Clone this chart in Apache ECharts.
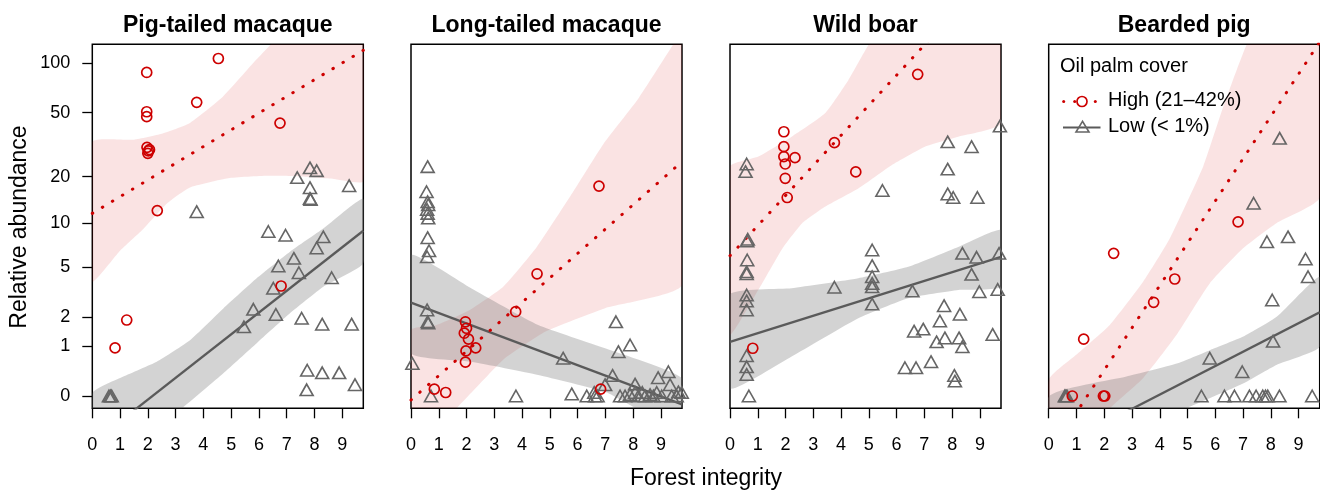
<!DOCTYPE html>
<html><head><meta charset="utf-8">
<script src="https://cdn.jsdelivr.net/npm/echarts@6/dist/echarts.min.js"></script>
<style>html,body{margin:0;padding:0;background:#fff}#chart{width:1320px;height:490px}</style>
</head><body><div id="chart"></div>
<script>
// ---------- categories / ticks ----------
const panelTitles = ['Pig-tailed macaque', 'Long-tailed macaque', 'Wild boar', 'Bearded pig'];
const yTickValues = [0, 1, 2, 5, 10, 20, 50, 100];
const xTickValues = [0, 1, 2, 3, 4, 5, 6, 7, 8, 9];
const legendTitle = 'Oil palm cover';
const legendHigh = 'High (21–42%)';
const legendLow = 'Low (< 1%)';

// ---------- Pig-tailed macaque ----------
const ptmHigh = [[4.54,107],[1.96,88],[3.76,57.8],[1.96,50.6],[1.96,47.2],[6.76,43.1],[1.97,30.5],[2.02,29],[2.06,29.5],[2.0,28],[2.34,12.1],[6.8,3.6],[1.24,1.87],[0.82,0.95]];
const ptmLow = [[3.76,11.9],[7.38,19.7],[7.84,22.7],[8.08,21.8],[7.84,17],[7.84,14.5],[7.86,14.3],[9.25,17.5],[6.34,8.8],[6.96,8.3],[8.32,8.1],[8.08,6.8],[7.26,5.75],[6.7,5.07],[7.44,4.53],[8.62,4.16],[6.52,3.46],[5.8,2.33],[6.61,2.1],[7.54,1.94],[8.28,1.71],[9.34,1.71],[5.46,1.61],[7.74,0.43],[8.28,0.38],[8.89,0.38],[7.72,0.09],[9.46,0.17],[0.6,0],[0.65,0],[0.7,0]];
const ptmHighFit = [[0,11.6],[9.76,120]];
const ptmLowFit = [[0,-0.48],[9.76,8.9]];
const ptmHighUpper = [[0,33],[1.5,34],[2.5,37],[3.5,43],[4.7,62.5],[5.9,105],[6.4,129],[7.5,199],[9.76,500]];
const ptmHighLower = [[0,3.9],[1.0,6.5],[1.8,9],[2.7,13.5],[3.5,17],[4.9,19.5],[6.3,20.2],[7.5,20],[8.7,19.3],[9.76,18.7]];
const ptmLowUpper = [[0,0.04],[1.12,0.31],[2.32,0.61],[3.52,1.17],[4.72,2.37],[5.92,4.12],[7.12,6.4],[8.32,9.2],[9.76,14.4]];
const ptmLowLower = [[0,-0.68],[1.5,-0.5],[3.16,-0.176],[4.72,0.37],[5.92,1.08],[7.12,2.15],[8.32,3.55],[9.76,5.3]];

// ---------- Long-tailed macaque ----------
const ltmHigh = [[6.77,17.4],[4.54,4.45],[3.77,2.22],[1.96,1.8],[2.0,1.56],[1.92,1.39],[2.07,1.2],[2.33,0.95],[1.98,0.87],[1.96,0.6],[0.84,0.1],[1.25,0.05],[6.83,0.1]];
const ltmLow = [[0.6,23.1],[0.56,16],[0.6,13.8],[0.62,13.2],[0.58,12.3],[0.6,11.6],[0.62,10.8],[0.6,8],[0.65,6.5],[0.58,5.9],[0.58,2.3],[0.6,1.8],[0.62,1.75],[0.05,0.57],[0.72,0],[3.78,0],[5.79,0.03],[6.33,0],[6.63,0],[6.72,0],[6.6,0.05],[6.99,0.17],[7.38,1.8],[7.89,1.03],[7.47,0.85],[7.26,0.33],[5.48,0.69],[9.27,0.4],[8.9,0.29],[9.33,0.17],[8.07,0.18],[9.63,0.06],[7.53,0],[7.71,0],[7.89,0.02],[8.07,0.05],[8.19,0],[8.33,0.05],[8.43,0],[8.61,0.02],[8.73,0],[8.85,0.05],[9.03,0],[9.39,0],[9.57,0],[9.75,0.05]];
const ltmHighFit = [[0,-0.054],[9.76,24.8]];
const ltmLowFit = [[0,2.65],[9.76,-0.109]];
const ltmHighUpper = [[0,1.5],[0.92,1.68],[2.12,2.3],[3.32,3.55],[4.53,6.9],[5.73,14.9],[6.93,32],[8.19,61],[9.39,126],[9.76,155]];
const ltmHighLower = [[0,-0.68],[1.0,-0.37],[1.64,-0.157],[2.78,0.34],[3.38,0.69],[4.83,1.44],[6.99,2.38],[9.76,3.66]];
const ltmLowUpper = [[0,6.07],[2.18,3.45],[4.58,1.68],[6.99,0.94],[9.76,0.28]];
const ltmLowLower = [[0,0.81],[2.18,0.61],[4.58,0.34],[6.99,0.06],[8.07,-0.15],[9.76,-0.37]];

// ---------- Wild boar ----------
const wbHigh = [[6.76,85.7],[1.94,38.1],[3.76,32.6],[1.94,30.8],[1.94,26.7],[2.34,26.3],[1.99,24],[4.53,21.4],[1.99,19.5],[2.06,14.7],[0.82,0.94]];
const wbLow = [[0.6,24],[0.56,21.5],[5.49,16.3],[7.84,33],[8.7,30.8],[7.84,22.3],[7.84,15.5],[8.04,14.7],[8.91,14.7],[9.72,41.3],[0.64,7.8],[0.62,7.6],[0.62,5.6],[0.6,4.6],[0.6,4.45],[0.6,3.06],[0.6,2.74],[0.6,2.3],[0.6,0.75],[0.6,0.5],[0.6,0.35],[0.68,0],[5.12,6.58],[5.12,5.1],[5.12,4.23],[5.12,3.77],[5.12,3.55],[5.12,2.58],[3.76,3.52],[6.57,3.29],[8.37,6.24],[8.88,5.85],[9.69,6.24],[8.7,4.41],[8.98,3.25],[9.64,3.39],[7.71,2.5],[8.28,2.11],[7.56,1.83],[6.63,1.46],[6.96,1.53],[7.74,1.24],[8.25,1.24],[7.44,1.12],[8.37,0.98],[9.46,1.35],[7.24,0.61],[6.3,0.48],[6.7,0.48],[8.08,0.33],[8.1,0.23]];
const wbHighFit = [[0,6.0],[9.76,411]];
const wbLowFit = [[0,1.12],[9.76,5.9]];
const wbHighUpper = [[0,23.1],[1.02,26.7],[2.22,35.5],[3.42,49.5],[4.26,79],[4.98,129],[6,220],[9.76,900]];
const wbHighLower = [[0,1.35],[1.0,3.3],[1.9,6.8],[2.6,10],[3.42,12.8],[4.62,16.8],[5.82,23.6],[7.02,30.8],[8.22,35.5],[9.76,43]];
const wbLowUpper = [[0,3.1],[2.22,3.46],[4.62,4.12],[6.42,5.0],[8.22,6.9],[9.76,9.0]];
const wbLowLower = [[0,0.11],[2.22,0.73],[4.62,1.94],[6.42,2.88],[8.22,3.35],[9.76,3.55]];

// ---------- Bearded pig ----------
const bpHigh = [[6.82,10.2],[2.34,6.24],[4.54,4.07],[3.78,2.67],[1.26,1.2],[0.85,0],[1.97,0],[2.02,0]];
const bpLow = [[8.32,34.7],[7.38,13.5],[8.62,8.1],[7.86,7.5],[9.25,5.69],[9.34,4.23],[8.05,2.79],[8.08,1.14],[5.8,0.69],[6.97,0.4],[5.5,0],[6.33,0],[6.69,0],[7.23,0],[7.47,0],[7.71,0],[7.81,0],[7.89,0],[8.31,0],[9.49,0],[0.58,0],[0.62,0],[0.66,0]];
const bpHighFit = [[0,-0.557],[9.76,135]];
const bpLowFit = [[0,-0.538],[9.76,2.19]];
const bpHighUpper = [[0,0.25],[0.99,0.77],[2.2,1.68],[3.4,3.88],[4.36,7.9],[5.56,23.1],[6.28,54],[7.12,129],[9.76,1000]];
const bpHighLower = [[0,-0.75],[1,-0.5],[2.2,-0.157],[3.4,0.28],[4.6,1.33],[5.8,3.77],[7.0,6.76],[8.2,10],[9.76,14.7]];
const bpLowUpper = [[0,-0.01],[2.8,0.31],[4.61,0.57],[5.81,0.89],[7.01,1.28],[8.21,2.0],[9.76,4.23]];
const bpLowLower = [[0,-0.75],[3,-0.5],[4.96,-0.157],[5.8,-0.03],[7.0,0.19],[8.2,0.54],[9.76,0.98]];

// ---------- build ----------
const T = v => Math.log10(v + 1);   // log(y+1) scale
const panels = [
  {high: ptmHigh, low: ptmLow, highFit: ptmHighFit, lowFit: ptmLowFit, hu: ptmHighUpper, hl: ptmHighLower, lu: ptmLowUpper, ll: ptmLowLower},
  {high: ltmHigh, low: ltmLow, highFit: ltmHighFit, lowFit: ltmLowFit, hu: ltmHighUpper, hl: ltmHighLower, lu: ltmLowUpper, ll: ltmLowLower},
  {high: wbHigh, low: wbLow, highFit: wbHighFit, lowFit: wbLowFit, hu: wbHighUpper, hl: wbHighLower, lu: wbLowUpper, ll: wbLowLower},
  {high: bpHigh, low: bpLow, highFit: bpHighFit, lowFit: bpLowFit, hu: bpHighUpper, hl: bpHighLower, lu: bpLowUpper, ll: bpLowLower}
];

const FONT = "'Liberation Sans', Arial, Helvetica, sans-serif";
const RED = '#cd0000', GRAY = '#666666', GRAYLINE = '#5a5a5a';
const PINKFILL = 'rgba(205,0,0,0.11)', GRAYFILL = 'rgba(102,102,102,0.29)';
const gridLefts = [92.3, 411, 730, 1048.7];
const GRID_W = 271, GRID_TOP = 44.3, GRID_H = 364;
const Y_MIN = -0.074, Y_MAX = 2.119, X_MAX = 9.76;
const yTickPos = yTickValues.map(T);

const tr = arr => arr.map(p => [p[0], T(p[1])]);

function band(i, upper, lower, color) {
  return {
    type: 'custom', xAxisIndex: i, yAxisIndex: i, silent: true, clip: true, z: 1,
    data: [[upper[0][0], T(upper[0][1])]],
    renderItem: function (params, api) {
      const pts = upper.map(p => api.coord([p[0], T(p[1])]))
        .concat(lower.slice().reverse().map(p => api.coord([p[0], T(p[1])])));
      return { type: 'polygon', shape: { points: pts, smooth: 0.15 }, style: { fill: color } };
    }
  };
}

const grids = [], xAxes = [], yAxes = [], series = [];
panels.forEach((p, i) => {
  grids.push({left: gridLefts[i], top: GRID_TOP, width: GRID_W, height: GRID_H, show: true,
    borderColor: '#000', borderWidth: 1.5, backgroundColor: 'transparent', containLabel: false});
  xAxes.push({gridIndex: i, type: 'value', min: 0, max: X_MAX, position: 'bottom',
    axisLine: {show: false, onZero: false}, splitLine: {show: false},
    axisTick: {show: true, inside: false, length: 10, customValues: xTickValues, lineStyle: {color: '#000', width: 1.3}},
    axisLabel: {show: true, customValues: xTickValues, margin: 28, fontSize: 18, color: '#000', fontFamily: FONT}});
  yAxes.push({gridIndex: i, type: 'value', min: Y_MIN, max: Y_MAX, position: 'left',
    axisLine: {show: false, onZero: false}, splitLine: {show: false},
    axisTick: {show: i === 0, inside: false, length: 10, customValues: yTickPos, lineStyle: {color: '#000', width: 1.3}},
    axisLabel: {show: i === 0, customValues: yTickPos, margin: 22, fontSize: 18, color: '#000', fontFamily: FONT,
      formatter: v => String(Math.round(Math.pow(10, v) - 1))}});
  series.push(band(i, p.hu, p.hl, PINKFILL));
  series.push(band(i, p.lu, p.ll, GRAYFILL));
  series.push({type: 'line', xAxisIndex: i, yAxisIndex: i, data: tr(p.lowFit), showSymbol: false, symbol: 'none',
    clip: true, silent: true, z: 2, lineStyle: {color: GRAYLINE, width: 2.3}});
  series.push({type: 'line', xAxisIndex: i, yAxisIndex: i, data: tr(p.highFit), showSymbol: false, symbol: 'none',
    clip: true, silent: true, z: 2, lineStyle: {color: RED, width: 3, type: [0.5, 11.2], cap: 'round'}});
  series.push({type: 'scatter', xAxisIndex: i, yAxisIndex: i, data: tr(p.low), symbol: 'triangle', symbolSize: [13, 11.5],
    silent: true, z: 3, itemStyle: {color: 'rgba(0,0,0,0)', borderColor: GRAY, borderWidth: 1.6, opacity: 1}});
  series.push({type: 'scatter', xAxisIndex: i, yAxisIndex: i, data: tr(p.high), symbol: 'circle', symbolSize: 10,
    silent: true, z: 4, itemStyle: {color: 'rgba(0,0,0,0)', borderColor: RED, borderWidth: 1.7, opacity: 1}});
});

const graphics = [];
panelTitles.forEach((t, i) => {
  graphics.push({type: 'text', x: gridLefts[i] + GRID_W / 2, y: 26, z: 10,
    style: {text: t, fontSize: 23, fontWeight: 'bold', fontFamily: FONT, fill: '#000', align: 'center', verticalAlign: 'middle'}});
});
graphics.push({type: 'text', x: 706, y: 479, z: 10,
  style: {text: 'Forest integrity', fontSize: 23, fontFamily: FONT, fill: '#000', align: 'center', verticalAlign: 'middle'}});
graphics.push({type: 'text', x: 20, y: 227, rotation: Math.PI / 2, z: 10,
  style: {text: 'Relative abundance', fontSize: 23, fontFamily: FONT, fill: '#000', align: 'center', verticalAlign: 'middle'}});
// legend
graphics.push({type: 'text', x: 1060, y: 66.5, z: 10,
  style: {text: legendTitle, fontSize: 20, fontFamily: FONT, fill: '#000', align: 'left', verticalAlign: 'middle'}});
[1063.7, 1074.7, 1095.3].forEach(x => graphics.push({type: 'circle', z: 10, shape: {cx: x, cy: 101.5, r: 1.5}, style: {fill: RED}}));
graphics.push({type: 'circle', z: 10, shape: {cx: 1082, cy: 101.5, r: 5}, style: {fill: 'none', stroke: RED, lineWidth: 1.7}});
graphics.push({type: 'text', x: 1108, y: 100.5, z: 10,
  style: {text: legendHigh, fontSize: 20, fontFamily: FONT, fill: '#000', align: 'left', verticalAlign: 'middle'}});
graphics.push({type: 'line', z: 10, shape: {x1: 1063, y1: 127.5, x2: 1100.5, y2: 127.5}, style: {stroke: GRAYLINE, lineWidth: 2.2}});
graphics.push({type: 'polygon', z: 11, shape: {points: [[1082.5, 121.3], [1076, 132], [1089, 132]]},
  style: {fill: 'none', stroke: GRAY, lineWidth: 1.6}});
graphics.push({type: 'text', x: 1108, y: 126.5, z: 10,
  style: {text: legendLow, fontSize: 20, fontFamily: FONT, fill: '#000', align: 'left', verticalAlign: 'middle'}});

const chart = echarts.init(document.getElementById('chart'), null, {renderer: 'canvas'});
chart.setOption({
  animation: false,
  backgroundColor: '#fff',
  grid: grids, xAxis: xAxes, yAxis: yAxes, series: series, graphic: graphics,
  tooltip: {show: false}
});
</script></body></html>
